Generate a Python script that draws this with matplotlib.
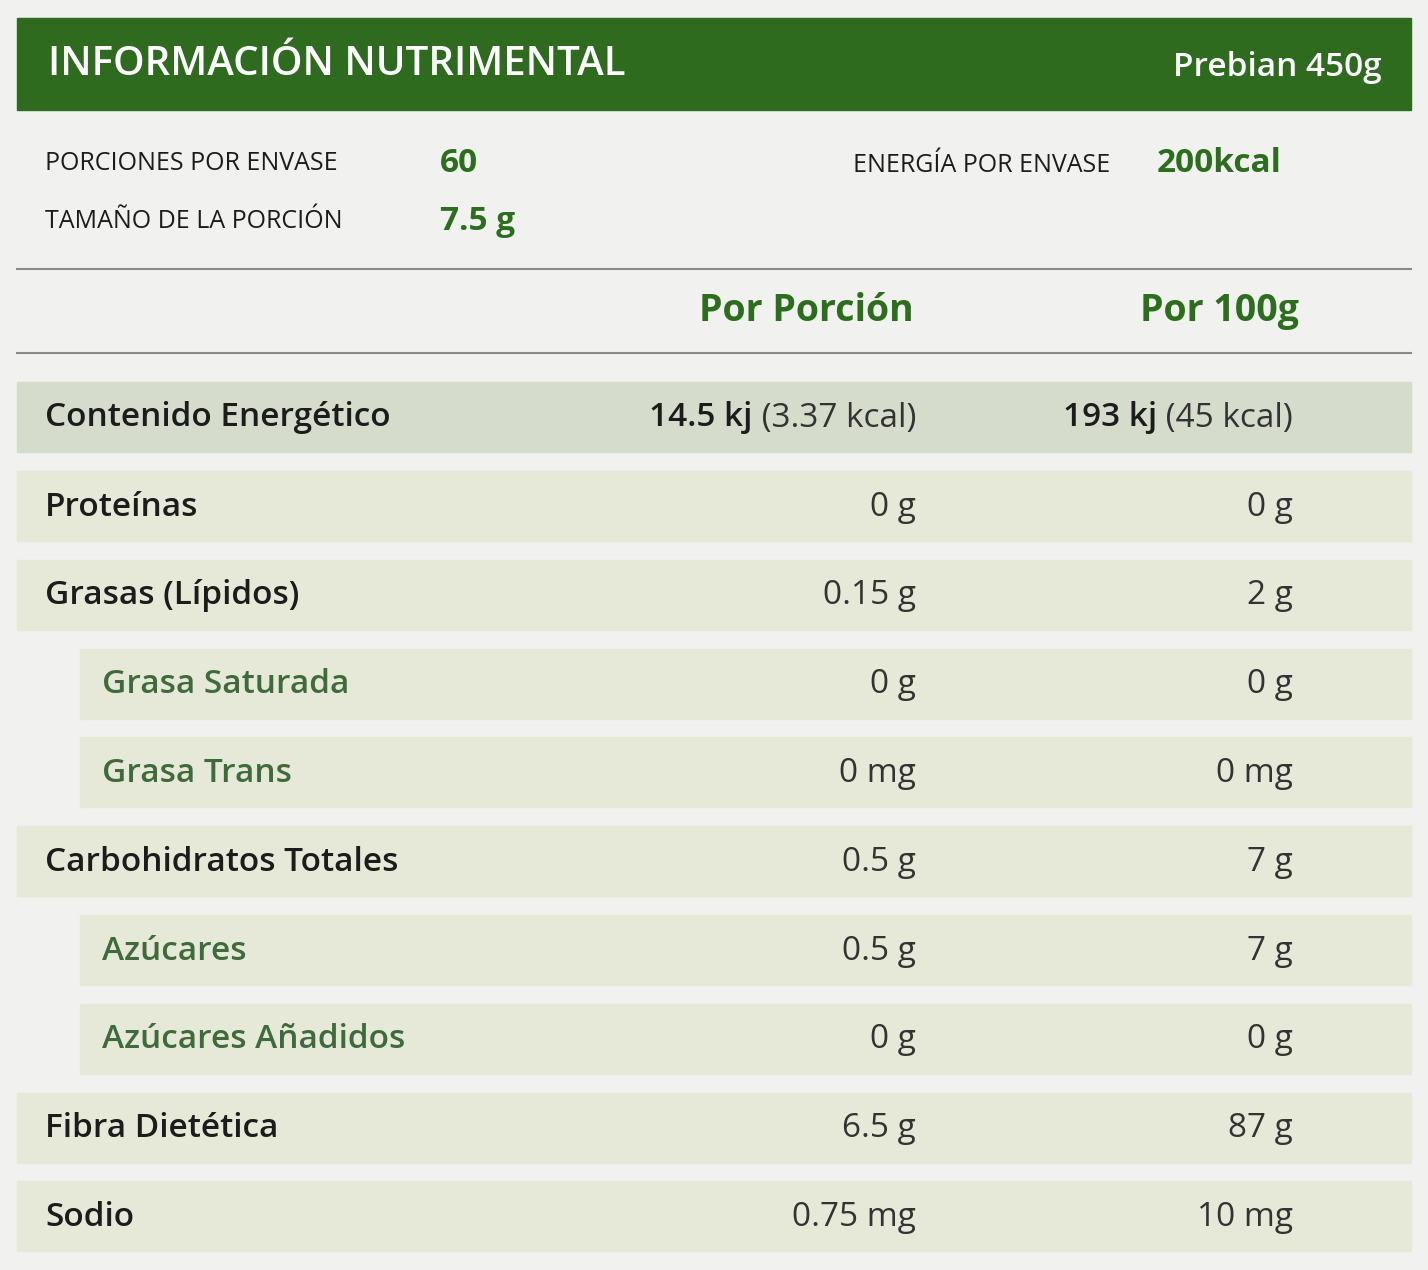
import matplotlib.pyplot as plt
from matplotlib.patches import Rectangle

# ---- data ----
title = "INFORMACIÓN NUTRIMENTAL"
product = "Prebian 450g"
info_left = [("PORCIONES POR ENVASE", "60"), ("TAMAÑO DE LA PORCIÓN", "7.5 g")]
info_right = ("ENERGÍA POR ENVASE", "200kcal")
col_headers = ["Por Porción", "Por 100g"]
row_labels = ["Proteínas", "Grasas (Lípidos)", "Grasa Saturada", "Grasa Trans",
              "Carbohidratos Totales", "Azúcares", "Azúcares Añadidos",
              "Fibra Dietética", "Sodio"]
row_sub = [False, False, True, True, False, True, True, False, False]
per_portion = ["0 g", "0.15 g", "0 g", "0 mg", "0.5 g", "0.5 g", "0 g", "6.5 g", "0.75 mg"]
per_100g = ["0 g", "2 g", "0 g", "0 mg", "7 g", "7 g", "0 g", "87 g", "10 mg"]
energy_label = "Contenido Energético"
energy_vals = [("14.5 kj", " (3.37 kcal)"), ("193 kj", " (45 kcal)")]

GREEN = "#2e6b1f"
TXTGREEN = "#2d6e1e"
SUBGREEN = "#3f6b3c"
DARK = "#1c1c1c"
GREY = "#333333"
FONT = "Open Sans"

fig = plt.figure(figsize=(14.28, 12.70), dpi=100, facecolor="#f1f1ef")
ax = fig.add_axes([0, 0, 1, 1])
ax.set_xlim(0, 1428)
ax.set_ylim(1270, 0)
ax.axis("off")

# header band
ax.add_patch(Rectangle((17, 18), 1394, 92, color=GREEN))
ax.text(48, 65, title, color="white", fontsize=29, family=FONT, weight="semibold", va="center")
ax.text(1382, 67, product, color="white", fontsize=24, family=FONT, weight="semibold",
        va="center", ha="right")

# info block
for i, (k, v) in enumerate(info_left):
    y = 163 + i * 58
    ax.text(45, y, k, color=DARK, fontsize=18, family=FONT, va="center")
    ax.text(440, y, v, color=TXTGREEN, fontsize=24, family=FONT, weight="bold", va="center")
ax.text(1110, 166, info_right[0], color=DARK, fontsize=18, family=FONT, va="center", ha="right")
ax.text(1157, 164, info_right[1], color=TXTGREEN, fontsize=24, family=FONT, weight="bold", va="center")

ax.plot([17, 1411], [269, 269], color="#8a8a8a", lw=1.5)
ax.plot([17, 1411], [353, 353], color="#8a8a8a", lw=1.5)
for x, h in zip([914, 1299], col_headers):
    ax.text(x, 311, h, color=TXTGREEN, fontsize=27, family=FONT, weight="bold",
            va="center", ha="right")

val_x = [916, 1293]
fig.canvas.draw()
renderer = fig.canvas.get_renderer()

# energy row
ax.add_patch(Rectangle((17, 382), 1394, 70, color="#d6dccb"))
ax.text(45, 418, energy_label, color=DARK, fontsize=24, family=FONT, weight="semibold", va="center")
for x, (b, n) in zip(val_x, energy_vals):
    t = ax.text(x, 418, n, color=GREY, fontsize=24, family=FONT, va="center", ha="right")
    w = t.get_window_extent(renderer).width
    ax.text(x - w, 418, b, color=DARK, fontsize=24, family=FONT, weight="semibold",
            va="center", ha="right")

# other rows
for i, (lab, sub, a, b) in enumerate(zip(row_labels, row_sub, per_portion, per_100g)):
    top = 471 + i * 88.8
    x0 = 80 if sub else 17
    ax.add_patch(Rectangle((x0, top), 1411 - x0, 70, color="#e6e9d8"))
    yc = top + 36
    ax.text(102 if sub else 45, yc, lab, color=SUBGREEN if sub else DARK, fontsize=24,
            family=FONT, weight="semibold", va="center")
    for x, v in zip(val_x, [a, b]):
        ax.text(x, yc, v, color=GREY, fontsize=24, family=FONT, va="center", ha="right")

fig.savefig("out.png", dpi=100, facecolor=fig.get_facecolor())
